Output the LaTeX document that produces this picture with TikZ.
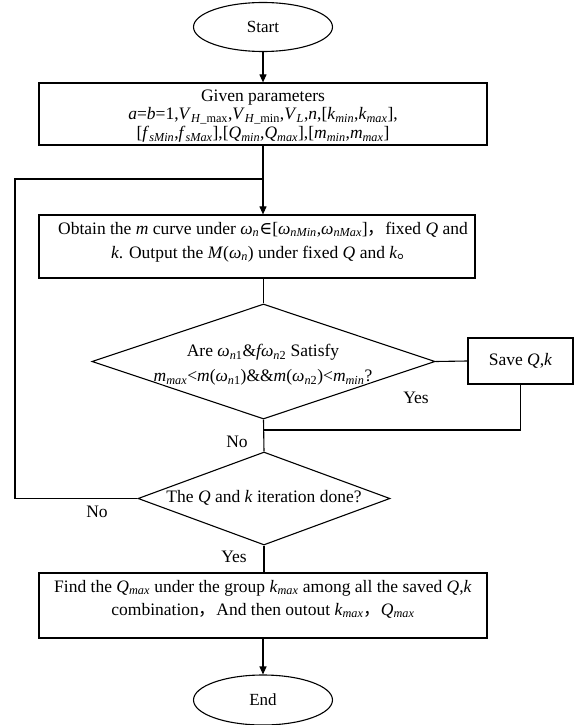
\documentclass[tikz,border=0pt]{standalone}
\usepackage{fontspec}
\setmainfont{Liberation Serif}
\newfontfamily\cjk{Noto Sans CJK SC}
\newfontfamily\symf{DejaVu Serif}
\usetikzlibrary{shapes.geometric,arrows.meta}
\newcommand\I[1]{\textit{#1}}
\newcommand\sbs[1]{\textsubscript{#1}}
\tikzset{
  every node/.style={font=\fontsize{17.5}{20}\selectfont, inner sep=0pt},
  boxnode/.style={draw, rectangle, line width=1.2pt},
  termnode/.style={draw, ellipse, line width=1.1pt},
  decnode/.style={draw, diamond, line width=1.1pt},
  conn/.style={line width=1.1pt},
  arr/.style={conn, -{Triangle[length=8pt,width=7pt]}},
}
\begin{document}
\begin{tikzpicture}[x=1pt,y=-1pt]
\useasboundingbox (0,0) rectangle (576,725);
% terminals
\node[termnode, minimum width=139, minimum height=49, font=\fontsize{17}{20}\selectfont] (start) at (263,27) {Start};
\node[termnode, minimum width=139, minimum height=50, font=\fontsize{17}{20}\selectfont] (end) at (263,700) {End};
% boxes
\node[boxnode, minimum width=448, minimum height=62] (given) at (263,114) {};
\node[align=center, font=\fontsize{17.5}{18.5}\selectfont] (giventext) at (263,116) {Given parameters\\
\I{a}=\I{b}=1,\I{V}\sbs{\I{H}\_max},\I{V}\sbs{\I{H}\_min},\I{V}\sbs{\I{L}},\I{n},[\I{k}\sbs{\I{min}},\I{k}\sbs{\I{max}}],\\
{[}\I{f}\sbs{\I{sMin}},\I{f}\sbs{\I{sMax}}],[\I{Q}\sbs{\I{min}},\I{Q}\sbs{\I{max}}],[\I{m}\sbs{\I{min}},\I{m}\sbs{\I{max}}]};
\node[boxnode, minimum width=436, minimum height=63] (obtain) at (257,246.5) {};
\node[align=center, font=\fontsize{17.5}{24}\selectfont] (obtaintext) at (263,242) {Obtain the \I{m} curve under \I{ω}\sbs{\I{n}}{\symf ∈}[\I{ω}\sbs{\I{nMin}},\I{ω}\sbs{\I{nMax}}]{\cjk ，}fixed \I{Q} and\\
\I{k}. Output the \I{M}(\I{ω}\sbs{\I{n}}) under fixed \I{Q} and \I{k}{\cjk 。}};
\node[boxnode, minimum width=105, minimum height=46] (save) at (520.5,361) {Save \I{Q},\I{k}};
\node[boxnode, minimum width=448, minimum height=65] (find) at (263,605.5) {};
\node[align=center, font=\fontsize{17.5}{23}\selectfont] (findtext) at (263,599) {Find the \I{Q}\sbs{\I{max}} under the group \I{k}\sbs{\I{max}} among all the saved \I{Q},\I{k}\\
combination{\cjk ，}And then outout \I{k}\sbs{\I{max}}{\cjk ，}\I{Q}\sbs{\I{max}}};
% decisions
\node[decnode, minimum width=343, minimum height=115] (d1) at (263.5,361.5) {};
\node[align=center, font=\fontsize{17.5}{25}\selectfont] (d1text) at (263,365) {Are \I{ω}\sbs{\I{n}1}\&\I{fω}\sbs{\I{n}2} Satisfy\\
\I{m}\sbs{\I{max}}<\I{m}(\I{ω}\sbs{\I{n}1})\&\&\I{m}(\I{ω}\sbs{\I{n}2})<\I{m}\sbs{\I{min}}?};
\node[decnode, minimum width=252, minimum height=93] (d2) at (264,498.5) {};
\node (d2text) at (264,498) {The \I{Q} and \I{k} iteration done?};
% labels
\node (yes1) at (416,398) {Yes};
\node (no1) at (237,442) {No};
\node (no2) at (97,512) {No};
\node (yes2) at (234,557) {Yes};
% junctions
\coordinate (j1) at (263,179);
\coordinate (j2) at (263,430);
\coordinate (lft) at (15,179);
% connectors
\draw[arr] (start) -- (given);
\draw[conn] (given.south) -- (j1);
\draw[arr] (j1) -- (j1 |- obtain.north);
\draw[conn] (d1.north |- obtain.south) -- (d1.north);
\draw[conn] (d1.east) -- (save.west);
\draw[conn] (save.south) |- (j2);
\draw[conn] (d1.south) -- (d2.north);
\draw[conn] (d2.west) -| (lft) -- (j1);
\draw[conn] (d2.south) -- (d2.south |- find.north);
\draw[arr] (find.south -| end.north) -- (end.north);
\end{tikzpicture}
\end{document}
